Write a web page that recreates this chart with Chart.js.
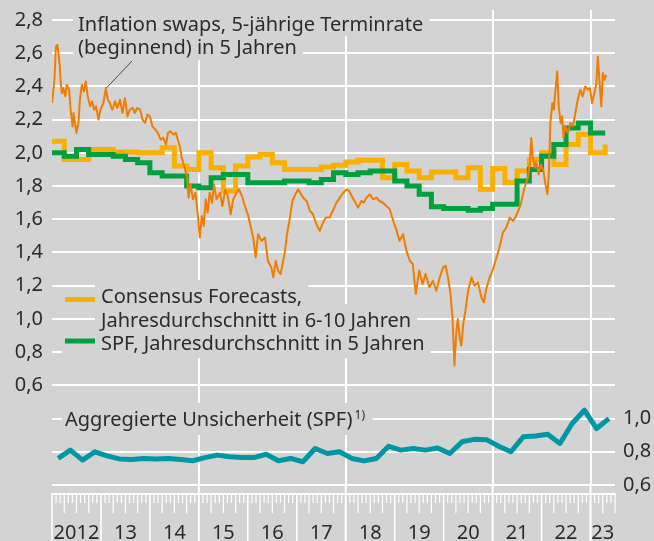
<!DOCTYPE html>
<html>
<head>
<meta charset="utf-8">
<script src="https://cdn.jsdelivr.net/npm/chart.js"></script>
<style>
  html, body { margin: 0; padding: 0; background: #d3d3d3; }
  canvas { display: block; }
</style>
</head>
<body>
<canvas id="Chart" width="654" height="541"></canvas>
<script>
// Inflation swaps, 5-jährige Terminrate in 5 Jahren (Tageswerte)
const swapYears = [
  2012.00, 2012.03, 2012.05, 2012.08, 2012.11, 2012.14, 2012.16, 2012.18, 2012.20, 2012.23, 2012.27, 2012.30, 2012.35, 2012.38, 2012.42, 2012.44, 2012.46, 2012.50, 2012.54, 2012.57, 2012.61, 2012.65, 2012.69, 2012.73, 2012.78, 2012.82, 2012.86, 2012.90, 2012.95, 2012.99,
  2013.05, 2013.10, 2013.14, 2013.18, 2013.23, 2013.29, 2013.33, 2013.39, 2013.44, 2013.49, 2013.54, 2013.59, 2013.65, 2013.69, 2013.74, 2013.80, 2013.85, 2013.90, 2013.95,
  2014.00, 2014.05, 2014.11, 2014.16, 2014.22, 2014.27, 2014.33, 2014.37, 2014.42, 2014.48, 2014.53, 2014.58, 2014.61, 2014.65, 2014.69, 2014.72, 2014.76, 2014.79, 2014.83, 2014.88, 2014.93, 2014.98,
  2015.02, 2015.06, 2015.10, 2015.14, 2015.18, 2015.22, 2015.27, 2015.31, 2015.36, 2015.43, 2015.48, 2015.54, 2015.59, 2015.65, 2015.70, 2015.77, 2015.82, 2015.88, 2015.94,
  2016.01, 2016.07, 2016.11, 2016.16, 2016.21, 2016.28, 2016.35, 2016.41, 2016.48, 2016.52, 2016.57, 2016.62, 2016.67, 2016.71, 2016.76, 2016.80, 2016.86, 2016.91, 2016.97,
  2017.03, 2017.07, 2017.13, 2017.20, 2017.27, 2017.33, 2017.40, 2017.47, 2017.52, 2017.59, 2017.67, 2017.75, 2017.81, 2017.88, 2017.95,
  2018.02, 2018.07, 2018.14, 2018.20, 2018.25, 2018.32, 2018.37, 2018.42, 2018.49, 2018.56, 2018.63, 2018.69, 2018.76, 2018.83, 2018.90, 2018.97,
  2019.03, 2019.10, 2019.17, 2019.24, 2019.31, 2019.37, 2019.43, 2019.50, 2019.57, 2019.63, 2019.71, 2019.78, 2019.85, 2019.92, 2019.99,
  2020.04, 2020.09, 2020.14, 2020.18, 2020.22, 2020.26, 2020.29, 2020.33, 2020.36, 2020.40, 2020.45, 2020.50, 2020.57, 2020.63, 2020.70, 2020.77, 2020.82, 2020.87, 2020.94,
  2021.01, 2021.08, 2021.14, 2021.21, 2021.28, 2021.35, 2021.42, 2021.48, 2021.55, 2021.59, 2021.65, 2021.72, 2021.76, 2021.79, 2021.82, 2021.86, 2021.89, 2021.94, 2021.99,
  2022.04, 2022.08, 2022.12, 2022.15, 2022.18, 2022.22, 2022.25, 2022.29, 2022.32, 2022.35, 2022.39, 2022.42, 2022.45, 2022.49, 2022.54, 2022.59, 2022.64, 2022.69, 2022.74, 2022.79, 2022.84, 2022.89, 2022.95, 2022.99,
  2023.03, 2023.08, 2023.12, 2023.15, 2023.18, 2023.22, 2023.25, 2023.29, 2023.32
];
const swapValues = [
  2.30, 2.38, 2.44, 2.64, 2.65, 2.58, 2.52, 2.42, 2.36, 2.39, 2.34, 2.41, 2.38, 2.26, 2.16, 2.24, 2.20, 2.12, 2.18, 2.32, 2.41, 2.37, 2.43, 2.34, 2.28, 2.31, 2.26, 2.28, 2.20, 2.26,
  2.30, 2.39, 2.32, 2.30, 2.26, 2.31, 2.27, 2.32, 2.24, 2.33, 2.22, 2.26, 2.27, 2.24, 2.27, 2.26, 2.20, 2.18, 2.23,
  2.22, 2.16, 2.14, 2.12, 2.08, 2.09, 2.05, 2.12, 2.13, 2.11, 2.12, 2.07, 2.04, 1.97, 1.93, 1.90, 1.86, 1.73, 1.81, 1.72, 1.76, 1.62,
  1.49, 1.62, 1.56, 1.72, 1.64, 1.76, 1.70, 1.81, 1.72, 1.76, 1.68, 1.78, 1.74, 1.63, 1.72, 1.76, 1.78, 1.74, 1.68,
  1.62, 1.54, 1.49, 1.37, 1.51, 1.47, 1.49, 1.35, 1.31, 1.25, 1.35, 1.29, 1.27, 1.33, 1.41, 1.51, 1.61, 1.71, 1.75,
  1.78, 1.76, 1.73, 1.71, 1.65, 1.63, 1.57, 1.53, 1.57, 1.61, 1.61, 1.66, 1.70, 1.73, 1.76,
  1.78, 1.77, 1.73, 1.70, 1.67, 1.71, 1.70, 1.73, 1.75, 1.72, 1.73, 1.71, 1.70, 1.68, 1.66, 1.59,
  1.54, 1.47, 1.51, 1.41, 1.35, 1.33, 1.15, 1.29, 1.21, 1.27, 1.19, 1.23, 1.17, 1.25, 1.31,
  1.32, 1.25, 1.15, 1.01, 0.72, 0.93, 1.00, 0.88, 0.84, 0.97, 1.06, 1.17, 1.25, 1.20, 1.22, 1.13, 1.10, 1.18, 1.25,
  1.30, 1.37, 1.43, 1.52, 1.55, 1.61, 1.59, 1.62, 1.67, 1.71, 1.79, 1.85, 1.93, 2.09, 1.97, 1.91, 1.95, 1.87, 1.93,
  1.89, 1.81, 1.75, 1.89, 2.18, 2.30, 2.26, 2.40, 2.49, 2.28, 2.18, 2.22, 2.09, 2.16, 2.12, 2.18, 2.16, 2.24, 2.32, 2.38, 2.34, 2.40, 2.38, 2.39,
  2.30, 2.36, 2.42, 2.58, 2.44, 2.28, 2.48, 2.44, 2.47
];

// Quartalswerte (Stufen), jeweils ab Quartalsbeginn 2012 Q1 bis 2023 Q1, plus Endpunkt
const stepYears = [];
for (let q = 0; q <= 44; q++) stepYears.push(2012 + q / 4);
stepYears.push(2023.3);

const consensusValues = [
  2.07, 1.96, 1.96, 2.02,
  2.02, 2.005, 2.005, 2.00,
  2.00, 2.03, 1.92, 1.90,
  2.00, 1.91, 1.77, 1.92,
  1.975, 1.99, 1.94, 1.90,
  1.90, 1.90, 1.915, 1.925,
  1.945, 1.955, 1.955, 1.85,
  1.93, 1.89, 1.85, 1.885,
  1.885, 1.85, 1.91, 1.78,
  1.905, 1.82, 1.89, 1.96,
  2.00, 1.93, 2.05, 2.11,
  2.00, 2.05
];
const spfValues = [
  2.00, 1.98, 2.02, 1.99,
  1.99, 1.98, 1.96, 1.94,
  1.88, 1.86, 1.86, 1.80,
  1.79, 1.85, 1.87, 1.87,
  1.82, 1.82, 1.82, 1.83,
  1.83, 1.82, 1.84, 1.88,
  1.87, 1.88, 1.89, 1.89,
  1.83, 1.80, 1.75, 1.675,
  1.665, 1.665, 1.655, 1.665,
  1.69, 1.69, 1.83, 1.90,
  1.98, 2.05, 2.15, 2.18,
  2.12, 2.12
];

// Aggregierte Unsicherheit (SPF), Quartalsmitte
const uncertaintyYears = [];
for (let q = 0; q <= 45; q++) uncertaintyYears.push(2012.125 + q / 4);
const uncertaintyValues = [
  0.76, 0.81, 0.75, 0.80,
  0.775, 0.757, 0.754, 0.76,
  0.757, 0.76, 0.754, 0.746,
  0.765, 0.78, 0.77, 0.765,
  0.765, 0.785, 0.746, 0.76,
  0.74, 0.82, 0.79, 0.80,
  0.76, 0.745, 0.76, 0.833,
  0.81, 0.82, 0.81, 0.823,
  0.79, 0.86, 0.875, 0.873,
  0.833, 0.80, 0.89, 0.895,
  0.905, 0.85, 0.97, 1.05,
  0.94, 1.00
];

const leftTicks = [0, 0.2, 0.4, 0.6, 0.8, 1.0, 1.2, 1.4, 1.6, 1.8, 2.0, 2.2, 2.4, 2.6, 2.8];
const rightTicks = [0.6, 0.8, 1.0];
const gridYears = [2015, 2018, 2021, 2023];
const yearLabels = ['2012', '13', '14', '15', '16', '17', '18', '19', '20', '21', '22', '23'];

const BG = '#d3d3d3';
const TEXT = '#2b2b2b';
const FONT = '"Noto Sans", "Open Sans", sans-serif';
const ORANGE = '#f07d00';
const YELLOW = '#f9b000';
const GREEN = '#00a040';
const TEAL = '#0097a2';

const pairs = (xs, ys) => xs.map((x, i) => ({ x: x, y: ys[i] }));
const fmt = v => v.toFixed(1).replace('.', ',');
// Achsen ohne Zusatzabstand für überstehende Beschriftungen
const noPad = s => { s.paddingTop = 0; s.paddingBottom = 0; s.paddingLeft = 0; s.paddingRight = 0; };

// Hintergrund, Beschriftungen mit grauem Kasten, Legende
const annotations = {
  id: 'annotations',
  beforeDraw(chart) {
    const ctx = chart.ctx;
    ctx.save();
    ctx.fillStyle = BG;
    ctx.fillRect(0, 0, chart.width, chart.height);
    ctx.restore();
  },
  beforeDatasetsDraw(chart) {
    const { ctx, scales: { x, y } } = chart;
    ctx.save();
    ctx.font = '20px ' + FONT;
    const items = [
      { text: 'Inflation swaps, 5-jährige Terminrate', x: 78, y: 31, top: 9, bottom: 36, left: 73 },
      { text: '(beginnend) in 5 Jahren', x: 78, y: 53.5, top: 36, bottom: 60, left: 73 },
      { text: 'Consensus Forecasts,', x: 101, y: 303, top: 280, bottom: 310, left: 95 },
      { text: 'Jahresdurchschnitt in 6-10 Jahren', x: 101, y: 326.5, top: 304, bottom: 334, left: 95 },
      { text: 'SPF, Jahresdurchschnitt in 5 Jahren', x: 101, y: 349.5, top: 327, bottom: 358, left: 62 },
      { text: 'Aggregierte Unsicherheit (SPF)', x: 65, y: 426, top: 403, bottom: 435, left: 62, extra: 14 }
    ];
    ctx.fillStyle = BG;
    items.forEach(it => {
      const w = ctx.measureText(it.text).width;
      ctx.fillRect(it.left, it.top, it.x + w + 6 + (it.extra || 0) - it.left, it.bottom - it.top);
    });
    ctx.fillStyle = TEXT;
    ctx.textBaseline = 'alphabetic';
    items.forEach(it => ctx.fillText(it.text, it.x, it.y));

    const agg = items[5];
    const aggW = ctx.measureText(agg.text).width;
    ctx.font = '12px ' + FONT;
    ctx.fillText('1)', agg.x + aggW + 2, 419);

    // Hinweislinie zur Swap-Kurve
    ctx.strokeStyle = '#4a4a4a';
    ctx.lineWidth = 1;
    ctx.beginPath();
    ctx.moveTo(132, 61);
    ctx.lineTo(x.getPixelForValue(2013.11), y.getPixelForValue(2.39));
    ctx.stroke();

    // Legendenbalken
    ctx.fillStyle = YELLOW;
    ctx.fillRect(65, 297, 30, 5);
    ctx.fillStyle = GREEN;
    ctx.fillRect(65, 338.5, 30, 5);
    ctx.restore();
  },
  afterDraw(chart) {
    const { ctx, scales: { x }, chartArea } = chart;
    const bottom = chartArea.bottom;
    ctx.save();
    ctx.strokeStyle = '#ffffff';
    ctx.fillStyle = '#ffffff';
    const x0 = x.getPixelForValue(2012), x1 = x.getPixelForValue(2023.5);
    ctx.fillRect(x0, bottom + 8, x1 - x0, 2);
    for (let m = 0; m <= 138; m++) {
      const t = 2012 + m / 12;
      const px = x.getPixelForValue(t);
      let y0 = bottom + 8, y1 = bottom + 18;
      ctx.lineWidth = 1.2;
      if (m % 12 === 0) {
        y1 = chart.height;
        ctx.lineWidth = 1.6;
        if (gridYears.includes(Math.round(t))) { y0 = bottom; ctx.lineWidth = 2; }
      } else if (m % 3 === 0) {
        y1 = bottom + 28;
      }
      ctx.beginPath();
      ctx.moveTo(px, y0);
      ctx.lineTo(px, y1);
      ctx.stroke();
    }
    ctx.fillStyle = TEXT;
    ctx.font = '20px ' + FONT;
    ctx.textAlign = 'center';
    ctx.textBaseline = 'alphabetic';
    yearLabels.forEach((lab, i) => {
      const a = x.getPixelForValue(2012 + i);
      const b = x.getPixelForValue(Math.min(2013 + i, 2023.5));
      ctx.fillText(lab, (a + b) / 2, bottom + 53.5);
    });
    ctx.restore();
  }
};

const chart = new Chart(document.getElementById('Chart').getContext('2d'), {
  type: 'line',
  data: {
    datasets: [
      { label: 'Inflation swaps', data: pairs(swapYears, swapValues), borderColor: ORANGE, borderWidth: 2,
        borderJoinStyle: 'round', yAxisID: 'y' },
      { label: 'SPF', data: pairs(stepYears, spfValues), borderColor: GREEN, borderWidth: 5,
        stepped: true, borderJoinStyle: 'miter', yAxisID: 'y' },
      { label: 'Consensus Forecasts', data: pairs(stepYears, consensusValues), borderColor: YELLOW, borderWidth: 5,
        stepped: true, borderJoinStyle: 'miter', yAxisID: 'y' },
      { label: 'Aggregierte Unsicherheit', data: pairs(uncertaintyYears, uncertaintyValues), borderColor: TEAL,
        borderWidth: 5, borderJoinStyle: 'round', yAxisID: 'y2' }
    ]
  },
  options: {
    responsive: false,
    animation: false,
    devicePixelRatio: 1,
    layout: { padding: { top: 10, left: 0, right: 0, bottom: 0 } },
    elements: { point: { radius: 0 }, line: { tension: 0, fill: false, borderCapStyle: 'butt' } },
    plugins: { legend: { display: false }, tooltip: { enabled: false } },
    scales: {
      x: {
        type: 'linear', min: 2012, max: 2023.5,
        afterBuildTicks: s => { s.ticks = gridYears.map(v => ({ value: v })); },
        afterFit: s => { s.height = 56; noPad(s); },
        ticks: { display: false },
        grid: { color: '#ffffff', lineWidth: 2, drawTicks: false },
        border: { display: false }
      },
      y: {
        position: 'left', min: 0, max: 2.86,
        afterBuildTicks: s => { s.ticks = leftTicks.map(v => ({ value: v })); },
        afterFit: s => { s.width = 52; noPad(s); },
        ticks: { padding: 9, color: TEXT, font: { family: FONT, size: 20 },
          callback: v => (v >= 0.599 ? fmt(v) : '') },
        grid: { color: '#ffffff', lineWidth: 2, drawTicks: false },
        border: { display: false }
      },
      y2: {
        position: 'right', min: 0.6, max: 3.46,
        afterBuildTicks: s => { s.ticks = rightTicks.map(v => ({ value: v })); },
        afterFit: s => { s.width = 39; noPad(s); },
        ticks: { padding: 8, color: TEXT, font: { family: FONT, size: 20 }, callback: v => fmt(v) },
        grid: { display: false, drawTicks: false },
        border: { display: false }
      }
    }
  },
  plugins: [annotations]
});
</script>
</body>
</html>
